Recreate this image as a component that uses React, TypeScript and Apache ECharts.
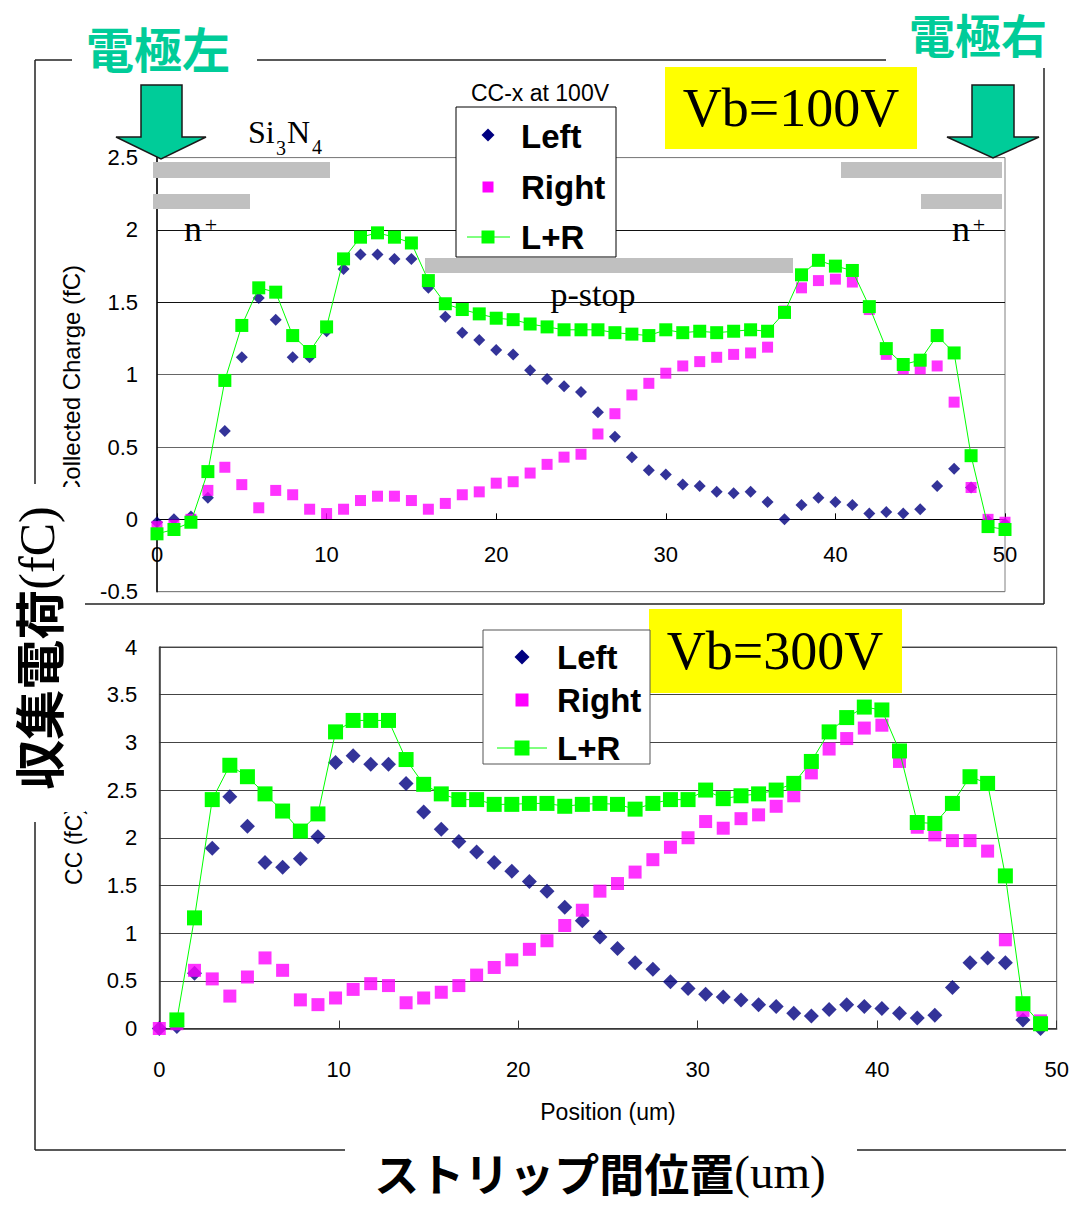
import React, { useEffect, useRef } from "react";
import * as echarts from "echarts";

// ---------- data ----------
const seriesNames = ["Left", "Right", "L+R"];

// Vb = 100V (top chart), position in um
const positionsA = [
  0, 1, 2, 3, 4, 5, 6, 7, 8, 9,
  10, 11, 12, 13, 14, 15, 16, 17, 18, 19,
  20, 21, 22, 23, 24, 25, 26, 27, 28, 29,
  30, 31, 32, 33, 34, 35, 36, 37, 38, 39,
  40, 41, 42, 43, 44, 45, 46, 47, 48, 49,
  50,
];
const leftA = [
  -0.02, 0.0, 0.02, 0.15, 0.61, 1.12, 1.53, 1.38, 1.12, 1.12,
  1.3, 1.73, 1.83, 1.83, 1.8, 1.8, 1.6, 1.4, 1.29, 1.24,
  1.17, 1.14, 1.03, 0.97, 0.92, 0.88, 0.74, 0.57, 0.43, 0.34,
  0.31, 0.24, 0.23, 0.19, 0.18, 0.19, 0.12, 0.0, 0.1, 0.15,
  0.12, 0.1, 0.04, 0.05, 0.04, 0.07, 0.23, 0.35, 0.22, -0.01,
  -0.03,
];
const rightA = [
  -0.05, -0.04, 0.0, 0.2, 0.36, 0.24, 0.08, 0.2, 0.17, 0.07,
  0.04, 0.07, 0.13, 0.16, 0.16, 0.13, 0.07, 0.11, 0.17, 0.19,
  0.25, 0.26, 0.32, 0.38, 0.43, 0.45, 0.59, 0.73, 0.86, 0.94,
  1.01, 1.06, 1.09, 1.12, 1.14, 1.15, 1.19, 1.44, 1.6, 1.65,
  1.66, 1.64, 1.45, 1.14, 1.04, 1.04, 1.06, 0.81, 0.22, 0.0,
  -0.02,
];
const sumA = [
  -0.1, -0.07, -0.02, 0.33, 0.96, 1.34, 1.6, 1.57, 1.27, 1.16,
  1.33, 1.8, 1.95, 1.98, 1.95, 1.91, 1.65, 1.49, 1.45, 1.42,
  1.39, 1.38, 1.35, 1.33, 1.31, 1.31, 1.31, 1.29, 1.28, 1.27,
  1.31, 1.29, 1.3, 1.29, 1.3, 1.31, 1.3, 1.43, 1.69, 1.79,
  1.75, 1.72, 1.47, 1.18, 1.07, 1.1, 1.27, 1.15, 0.44, -0.05,
  -0.07,
];

// Vb = 300V (bottom chart)
const positionsB = [
  0, 0.98, 1.96, 2.95, 3.93, 4.91, 5.89, 6.87, 7.86, 8.84,
  9.82, 10.8, 11.78, 12.77, 13.75, 14.73, 15.71, 16.69, 17.68, 18.66,
  19.64, 20.62, 21.6, 22.59, 23.57, 24.55, 25.53, 26.51, 27.5, 28.48,
  29.46, 30.44, 31.42, 32.41, 33.39, 34.37, 35.35, 36.33, 37.32, 38.3,
  39.28, 40.26, 41.24, 42.23, 43.21, 44.19, 45.17, 46.15, 47.14, 48.12,
  49.1,
];
const leftB = [
  0.0, 0.02, 0.58, 1.89, 2.43, 2.12, 1.74, 1.69, 1.78, 2.01,
  2.79, 2.86, 2.77, 2.77, 2.57, 2.27, 2.09, 1.96, 1.85, 1.74,
  1.65, 1.54, 1.44, 1.27, 1.13, 0.96, 0.84, 0.69, 0.62, 0.49,
  0.42, 0.36, 0.33, 0.3, 0.25, 0.23, 0.16, 0.13, 0.2, 0.25,
  0.23, 0.21, 0.16, 0.11, 0.14, 0.43, 0.69, 0.74, 0.69, 0.09,
  0.0,
];
const rightB = [
  0.0, 0.05, 0.61, 0.52, 0.34, 0.54, 0.74, 0.61, 0.3, 0.25,
  0.32, 0.41, 0.47, 0.45, 0.27, 0.32, 0.38, 0.45, 0.56, 0.64,
  0.72, 0.83, 0.92, 1.08, 1.24, 1.44, 1.52, 1.64, 1.77, 1.9,
  2.0, 2.17, 2.1, 2.2, 2.24, 2.33, 2.44, 2.68, 2.93, 3.04,
  3.15, 3.18, 2.8, 2.11, 2.03, 1.97, 1.97, 1.86, 0.93, 0.19,
  0.08,
];
const sumB = [
  null, 0.09, 1.16, 2.4, 2.76, 2.64, 2.46, 2.28, 2.07, 2.25,
  3.11, 3.23, 3.23, 3.23, 2.82, 2.56, 2.46, 2.4, 2.4, 2.35,
  2.35, 2.36, 2.36, 2.33, 2.35, 2.36, 2.35, 2.3, 2.36, 2.4,
  2.4, 2.5, 2.41, 2.44, 2.46, 2.5, 2.57, 2.8, 3.11, 3.26,
  3.37, 3.34, 2.91, 2.16, 2.15, 2.36, 2.64, 2.57, 1.6, 0.26,
  0.05,
];

// ---------- styling ----------
const SANS = '"Liberation Sans", Arial, sans-serif';
const SERIF = '"Liberation Serif", "Times New Roman", serif';
const CJK = '"Noto Sans CJK JP", "Noto Sans CJK SC", sans-serif';
const NAVY = "#000080";
const MAGENTA = "#FF00FF";
const GREEN = "#00FF00";
const TEAL = "#00CC99";
const GRAY_BAR = "#C0C0C0";

function pairs(xs: number[], ys: (number | null)[]) {
  const out: number[][] = [];
  xs.forEach((x, i) => {
    const y = ys[i];
    if (y !== null && y !== undefined) out.push([x, y]);
  });
  return out;
}

function txt(x: number, y: number, text: string, size: number, family: string, opts: any = {}) {
  const { align = "center", vAlign = "middle", weight = "normal", fill = "#000", z = 100, rotation = 0, rich } = opts;
  const style: any = {
    text,
    x: 0,
    y: 0,
    fontSize: size,
    fontFamily: family,
    fontWeight: weight,
    fill,
    align,
    verticalAlign: vAlign,
    textAlign: align,
    textVerticalAlign: vAlign,
  };
  if (rich) style.rich = rich;
  return { type: "text", x, y, rotation, z, silent: true, style };
}
function rect(x: number, y: number, w: number, h: number, fill: string, stroke?: string, z = 100, lw = 1) {
  return {
    type: "rect",
    z,
    silent: true,
    shape: { x, y, width: w, height: h },
    style: { fill, stroke: stroke || null, lineWidth: stroke ? lw : 0 },
  };
}
function seg(x1: number, y1: number, x2: number, y2: number, stroke = "#222", lw = 1.5, z = 100) {
  return { type: "line", z, silent: true, shape: { x1, y1, x2, y2 }, style: { stroke, lineWidth: lw } };
}
function diamond(cx: number, cy: number, h: number, fill: string) {
  return {
    type: "polygon",
    z: 101,
    silent: true,
    shape: { points: [[cx, cy - h], [cx + h, cy], [cx, cy + h], [cx - h, cy]] },
    style: { fill },
  };
}
function square(cx: number, cy: number, s: number, fill: string) {
  return rect(cx - s / 2, cy - s / 2, s, s, fill, undefined, 101);
}
function arrow(sx1: number, sx2: number, hx1: number, hx2: number, tipX: number, top: number, neck: number, tip: number) {
  return {
    type: "polygon",
    z: 100,
    silent: true,
    shape: {
      points: [[sx1, top], [sx2, top], [sx2, neck], [hx2, neck], [tipX, tip], [hx1, neck], [sx1, neck]],
    },
    style: { fill: TEAL, stroke: "#1a1a1a", lineWidth: 1.5 },
  };
}

const legendFont = 33;

const graphics: any[] = [
  // frame lines
  seg(35, 60, 72, 60),
  seg(257, 60, 886, 60),
  seg(35, 60, 35, 484),
  seg(35, 822, 35, 1150),
  seg(1044, 68, 1044, 604),
  seg(77, 604, 1044, 604),
  seg(35, 1150, 345, 1150),
  seg(857, 1150, 1066, 1150),

  // electrode labels and arrows
  txt(158, 47, "電極左", 48, CJK, { weight: "bold", fill: TEAL }),
  txt(978, 33, "電極右", 46, CJK, { weight: "bold", fill: TEAL }),
  arrow(141, 182, 116, 206, 161, 85, 137, 159),
  arrow(972, 1014, 947, 1039, 993, 85, 137, 158),

  // structure bars (top chart)
  rect(153, 162, 177, 16, GRAY_BAR),
  rect(153, 194, 97, 15, GRAY_BAR),
  rect(841, 162, 161, 16, GRAY_BAR),
  rect(921, 194, 81, 15, GRAY_BAR),
  rect(425, 258, 368, 15, GRAY_BAR),
  txt(248, 132, "Si", 32, SERIF, { align: "left" }),
  txt(276, 148, "3", 20, SERIF, { align: "left" }),
  txt(287, 132, "N", 32, SERIF, { align: "left" }),
  txt(312, 147, "4", 20, SERIF, { align: "left" }),
  txt(184, 229, "n", 36, SERIF, { align: "left" }),
  txt(211, 224, "+", 22, SERIF),
  txt(952, 229, "n", 36, SERIF, { align: "left" }),
  txt(979, 224, "+", 22, SERIF),
  txt(593, 294, "p-stop", 34, SERIF),

  // top chart title + legend
  txt(540, 93, "CC-x at 100V", 23, SANS),
  rect(456, 107, 160, 150, "#fff", "#000", 100, 1),
  diamond(488, 135, 6.5, NAVY),
  txt(521, 136, seriesNames[0], legendFont, SANS, { align: "left", weight: "bold" }),
  square(488, 187, 11, MAGENTA),
  txt(521, 187, seriesNames[1], legendFont, SANS, { align: "left", weight: "bold" }),
  seg(467, 237, 510, 237, GREEN, 1, 101),
  square(488, 237, 13, GREEN),
  txt(521, 237, seriesNames[2], legendFont, SANS, { align: "left", weight: "bold" }),

  // Vb boxes
  rect(665, 67, 252, 82, "#FFFF00"),
  txt(791, 108, "Vb=100V", 54, SERIF),
  rect(649, 609, 253, 84, "#FFFF00"),
  txt(775, 651, "Vb=300V", 54, SERIF),

  // bottom legend
  rect(483, 630, 167, 134, "#fff", "#555", 100, 1),
  diamond(522, 657, 7.5, NAVY),
  txt(557, 657, seriesNames[0], legendFont, SANS, { align: "left", weight: "bold" }),
  square(522, 700, 13, MAGENTA),
  txt(557, 700, seriesNames[1], legendFont, SANS, { align: "left", weight: "bold" }),
  seg(497, 748, 547, 748, GREEN, 1, 101),
  square(522, 748, 15, GREEN),
  txt(557, 748, seriesNames[2], legendFont, SANS, { align: "left", weight: "bold" }),

  // axis titles
  txt(71, 381, "Collected Charge (fC)", 24, SANS, { rotation: Math.PI / 2 }),
  txt(74, 846, "CC (fC)", 23, SANS, { rotation: Math.PI / 2 }),
  txt(608, 1112, "Position (um)", 23, SANS),

  // big Japanese labels
  rect(5, 487, 80, 325, "#fff", undefined, 110),
  txt(37, 648, "{a|収集電荷}{b|(fC)}", 50, CJK, {
    rotation: Math.PI / 2,
    z: 111,
    rich: {
      a: { fontFamily: CJK, fontSize: 50, fontWeight: "bold", fill: "#000" },
      b: { fontFamily: SERIF, fontSize: 50, fill: "#000" },
    },
  }),
  txt(600, 1172, "{a|ストリップ間位置}{b|(um)}", 45, CJK, {
    z: 111,
    rich: {
      a: { fontFamily: CJK, fontSize: 45, fontWeight: "bold", fill: "#000", lineHeight: 50 },
      b: { fontFamily: SERIF, fontSize: 47, fill: "#000", lineHeight: 50 },
    },
  }),
];

const axisLabelStyle = { fontFamily: SANS, fontSize: 22, color: "#000" };

// top grid geometry: y from -0.5 to 2.5 over 434.1 px -> zero line is 0.5 unit above the bottom
const TOP_H = 434.1;
const zeroOffset = -(TOP_H / 3) * 0.5;

const option: any = {
  animation: false,
  backgroundColor: "#fff",
  grid: [
    { left: 157, top: 157.6, width: 848, height: TOP_H, show: true, borderColor: "#808080", borderWidth: 1, containLabel: false },
    { left: 159.3, top: 647, width: 897.4, height: 381.5, show: true, borderColor: "#555", borderWidth: 1, containLabel: false },
  ],
  xAxis: [
    {
      gridIndex: 0, type: "value", min: 0, max: 50, interval: 10, position: "bottom", offset: zeroOffset,
      axisLine: { show: true, onZero: false, lineStyle: { color: "#000", width: 1 } },
      axisTick: { show: true, inside: true, length: 6, lineStyle: { color: "#000" } },
      axisLabel: { ...axisLabelStyle, margin: 24 },
      splitLine: { show: false },
    },
    {
      gridIndex: 1, type: "value", min: 0, max: 50, interval: 10, position: "bottom",
      axisLine: { show: true, onZero: false, lineStyle: { color: "#333", width: 1.5 } },
      axisTick: { show: true, inside: true, length: 8, lineStyle: { color: "#333" } },
      axisLabel: { ...axisLabelStyle, margin: 30 },
      splitLine: { show: false },
    },
  ],
  yAxis: [
    {
      gridIndex: 0, type: "value", min: -0.5, max: 2.5, interval: 0.5,
      axisLine: { show: true, onZero: false, lineStyle: { color: "#000", width: 1.5 } },
      axisTick: { show: false },
      axisLabel: { ...axisLabelStyle, margin: 19 },
      splitLine: {
        show: true,
        lineStyle: { color: ["#808080", "#555", "#666", "#666", "#111", "#111", "#808080"], width: 1.2 },
      },
    },
    {
      gridIndex: 1, type: "value", min: 0, max: 4, interval: 0.5,
      axisLine: { show: true, onZero: false, lineStyle: { color: "#333", width: 1.5 } },
      axisTick: { show: false },
      axisLabel: { ...axisLabelStyle, margin: 22 },
      splitLine: { show: true, lineStyle: { color: "#444", width: 1.2 } },
    },
  ],
  series: [
    {
      name: seriesNames[0], type: "scatter", xAxisIndex: 0, yAxisIndex: 0,
      data: pairs(positionsA, leftA), symbol: "diamond", symbolSize: 12,
      itemStyle: { color: NAVY }, clip: false,
    },
    {
      name: seriesNames[1], type: "scatter", xAxisIndex: 0, yAxisIndex: 0,
      data: pairs(positionsA, rightA), symbol: "rect", symbolSize: 11,
      itemStyle: { color: MAGENTA }, clip: false,
    },
    {
      name: seriesNames[2], type: "line", xAxisIndex: 0, yAxisIndex: 0,
      data: pairs(positionsA, sumA), symbol: "rect", symbolSize: 13, showSymbol: true,
      lineStyle: { color: GREEN, width: 1 }, itemStyle: { color: GREEN }, clip: false,
    },
    {
      name: seriesNames[0], type: "scatter", xAxisIndex: 1, yAxisIndex: 1,
      data: pairs(positionsB, leftB), symbol: "diamond", symbolSize: 15,
      itemStyle: { color: NAVY }, clip: false,
    },
    {
      name: seriesNames[1], type: "scatter", xAxisIndex: 1, yAxisIndex: 1,
      data: pairs(positionsB, rightB), symbol: "rect", symbolSize: 13,
      itemStyle: { color: MAGENTA }, clip: false,
    },
    {
      name: seriesNames[2], type: "line", xAxisIndex: 1, yAxisIndex: 1,
      data: pairs(positionsB, sumB), symbol: "rect", symbolSize: 15, showSymbol: true,
      lineStyle: { color: GREEN, width: 1 }, itemStyle: { color: GREEN }, clip: false,
    },
  ],
  graphic: { elements: graphics },
};

export default function App() {
  const ref = useRef<HTMLDivElement>(null);
  useEffect(() => {
    if (!ref.current) return;
    const chart = echarts.init(ref.current, undefined, { renderer: "svg" });
    chart.setOption(option);
    return () => chart.dispose();
  }, []);
  return (
    <div
      ref={ref}
      style={{ position: "absolute", left: 0, top: 0, width: 1073, height: 1206, background: "#fff" }}
    />
  );
}
